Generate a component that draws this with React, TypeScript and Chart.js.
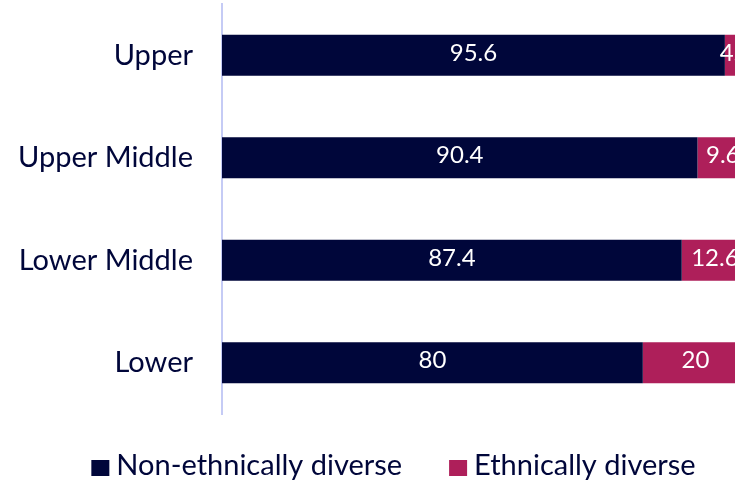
import React, { useEffect, useRef } from "react";
import { Chart, registerables } from "chart.js";

Chart.register(...registerables);

const categories = ["Upper", "Upper Middle", "Lower Middle", "Lower"];
const nonDiverse = [95.6, 90.4, 87.4, 80];
const diverse = [4.4, 9.6, 12.6, 20];
const seriesNames = ["Non-ethnically diverse", "Ethnically diverse"];

const NAVY = "#00063A";
const PINK = "#AE1F5A";
const FONT = "Lato, 'Open Sans', sans-serif";

const labelPlugin = {
  id: "segLabels",
  afterDatasetsDraw(chart: any) {
    const ctx = chart.ctx;
    ctx.save();
    ctx.fillStyle = "#ffffff";
    ctx.font = `24px ${FONT}`;
    ctx.textAlign = "center";
    ctx.textBaseline = "middle";
    chart.data.datasets.forEach((ds: any, di: number) => {
      const meta = chart.getDatasetMeta(di);
      meta.data.forEach((el: any, i: number) => {
        const v = ds.data[i];
        const cx = (el.x + el.base) / 2;
        ctx.fillText(String(v), cx, el.y - 2);
      });
    });
    ctx.restore();
  },
};

const legendPlugin = {
  id: "customLegend",
  afterDraw(chart: any) {
    const ctx = chart.ctx;
    ctx.save();
    ctx.font = `29px ${FONT}`;
    ctx.textBaseline = "middle";
    ctx.textAlign = "left";
    const boxW = 18, boxH = 16, gapText = 7, gapItem = 47;
    const items = chart.data.datasets.map((ds: any) => ({
      label: ds.label,
      color: ds.backgroundColor,
      w: ctx.measureText(ds.label).width,
    }));
    const total = items.reduce((a: number, it: any) => a + boxW + gapText + it.w, 0) + gapItem * (items.length - 1);
    let x = chart.width / 2 - total / 2;
    const cy = chart.height - 18;
    items.forEach((it: any) => {
      ctx.fillStyle = it.color;
      ctx.fillRect(x, cy - 6, boxW, boxH);
      x += boxW + gapText;
      ctx.fillStyle = NAVY;
      ctx.fillText(it.label, x, cy);
      x += it.w + gapItem;
    });
    ctx.restore();
  },
};

export default function App() {
  const ref = useRef<HTMLCanvasElement>(null);
  useEffect(() => {
    if (!ref.current) return;
    const chart = new Chart(ref.current, {
      type: "bar",
      data: {
        labels: categories,
        datasets: [
          { label: seriesNames[0], data: nonDiverse, backgroundColor: NAVY, barPercentage: 0.4, categoryPercentage: 1 },
          { label: seriesNames[1], data: diverse, backgroundColor: PINK, barPercentage: 0.4, categoryPercentage: 1 },
        ],
      },
      options: {
        indexAxis: "y",
        animation: false,
        responsive: false,
        maintainAspectRatio: false,
        layout: { padding: { top: 4, right: 39, bottom: 70, left: 0 } },
        scales: {
          x: { stacked: true, min: 0, max: 100, display: false },
          y: {
            stacked: true,
            grid: { display: false },
            border: { display: true, color: "#C5CBF5", width: 2 },
            ticks: { color: NAVY, font: { family: FONT, size: 29 }, padding: 21 },
            afterFit: (s: any) => {
              s.width = 222;
              s.paddingTop = 0;
              s.paddingBottom = 0;
            },
          },
        },
        plugins: {
          tooltip: { enabled: false },
          legend: { display: false },
        },
      },
      plugins: [labelPlugin, legendPlugin],
    });
    return () => chart.destroy();
  }, []);
  return (
    <div style={{ position: "fixed", left: 0, top: 0, width: 735, height: 484, overflow: "hidden", background: "#fff" }}>
      <canvas ref={ref} width={787} height={484} style={{ display: "block" }} />
    </div>
  );
}
